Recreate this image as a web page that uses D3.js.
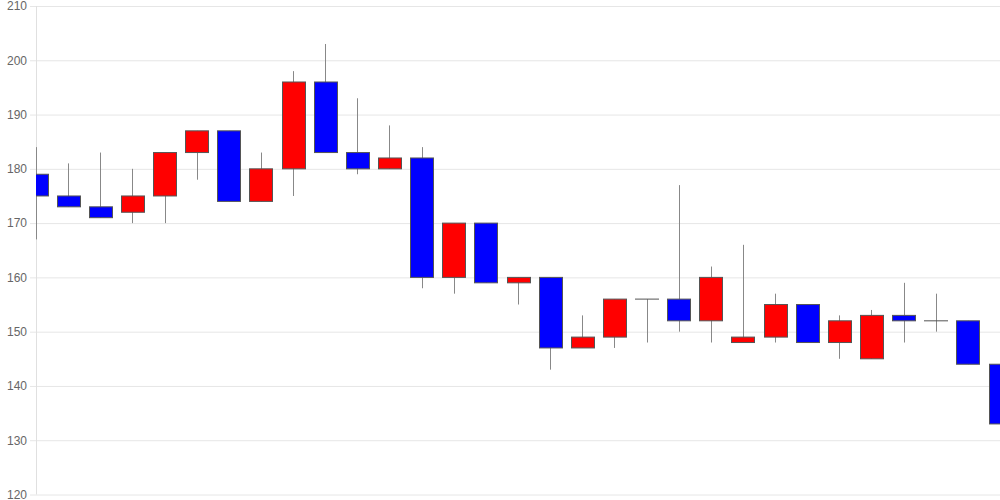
<!DOCTYPE html>
<html>
<head>
<meta charset="utf-8">
<script src="https://cdn.jsdelivr.net/npm/d3@7"></script>
<style>
  html, body { margin: 0; padding: 0; background: #fff; }
  #chart { width: 1000px; height: 500px; }
</style>
</head>
<body>
<div id="chart"></div>
<script>
// daily candles, oldest first
const opens  = [179, 175, 173, 172, 175, 183, 187, 174, 180, 196, 183, 180, 182, 160, 170, 159,
                160, 147, 149, 156, 156, 152, 148, 149, 155, 148, 145, 153, 152, 152, 144];
const closes = [175, 173, 171, 175, 183, 187, 174, 180, 196, 183, 180, 182, 160, 170, 159, 160,
                147, 149, 156, 156, 152, 160, 149, 155, 148, 152, 153, 152, 152, 144, 133];
const highs  = [184, 181, 183, 180, 183, 187, 187, 183, 198, 203, 193, 188, 184, 170, 170, 160,
                160, 153, 156, 156, 177, 162, 166, 157, 155, 153, 154, 159, 157, 152, 145];
const lows   = [167, 173, 171, 170, 170, 178, 174, 174, 175, 183, 179, 180, 158, 157, 159, 155,
                143, 147, 147, 148, 150, 148, 148, 148, 148, 145, 145, 148, 150, 144, 132];
const yTicks = [120, 130, 140, 150, 160, 170, 180, 190, 200, 210];

const candles = opens.map((o, i) => ({ i, o, c: closes[i], h: highs[i], l: lows[i] }));

const width = 1000, height = 500;
const plotLeft = 36, plotRight = 1000, plotTop = 6, plotBottom = 494.5;

const x = d3.scaleLinear().domain([0, candles.length - 1]).range([plotLeft, plotRight]);
const y = d3.scaleLinear().domain([120, 210]).range([plotBottom, plotTop]);
const bodyW = 23;

const svg = d3.select('#chart')
  .append('svg')
  .attr('width', width)
  .attr('height', height)
  .style('font', '12px "Liberation Sans", Arial, sans-serif');

svg.append('clipPath')
  .attr('id', 'plot')
  .append('rect')
  .attr('x', plotLeft)
  .attr('y', 0)
  .attr('width', plotRight - plotLeft)
  .attr('height', height);

// grid + labels
const yAxis = svg.append('g')
  .attr('transform', `translate(${plotLeft},0)`)
  .call(d3.axisLeft(y).tickValues(yTicks).tickSize(-(plotRight - plotLeft)).tickPadding(9));
yAxis.select('.domain').remove();
yAxis.selectAll('.tick line')
  .attr('x1', -6)
  .attr('stroke', '#e6e6e6');
yAxis.selectAll('.tick text')
  .attr('fill', '#666')
  .style('font', '12px "Liberation Sans", Arial, sans-serif');

svg.append('line')
  .attr('x1', plotLeft + 0.5).attr('x2', plotLeft + 0.5)
  .attr('y1', plotTop).attr('y2', plotBottom)
  .attr('stroke', '#e0e0e0');

const g = svg.append('g').attr('clip-path', 'url(#plot)');

g.append('g')
  .selectAll('line')
  .data(candles)
  .join('line')
  .attr('x1', d => Math.round(x(d.i)) + 0.5)
  .attr('x2', d => Math.round(x(d.i)) + 0.5)
  .attr('y1', d => y(d.h))
  .attr('y2', d => y(d.l))
  .attr('stroke', '#888');

// bodies; a doji still gets a thin outline so its bar shows
g.append('g')
  .selectAll('rect')
  .data(candles)
  .join('rect')
  .attr('x', d => Math.round(x(d.i) - bodyW / 2) + 0.5)
  .attr('y', d => y(Math.max(d.o, d.c)))
  .attr('width', bodyW)
  .attr('height', d => Math.max(Math.abs(y(d.o) - y(d.c)), 0.01))
  .attr('fill', d => d.c > d.o ? '#ff0000' : '#0000ff')
  .attr('stroke', '#555')
  .attr('stroke-width', 1);
</script>
</body>
</html>
